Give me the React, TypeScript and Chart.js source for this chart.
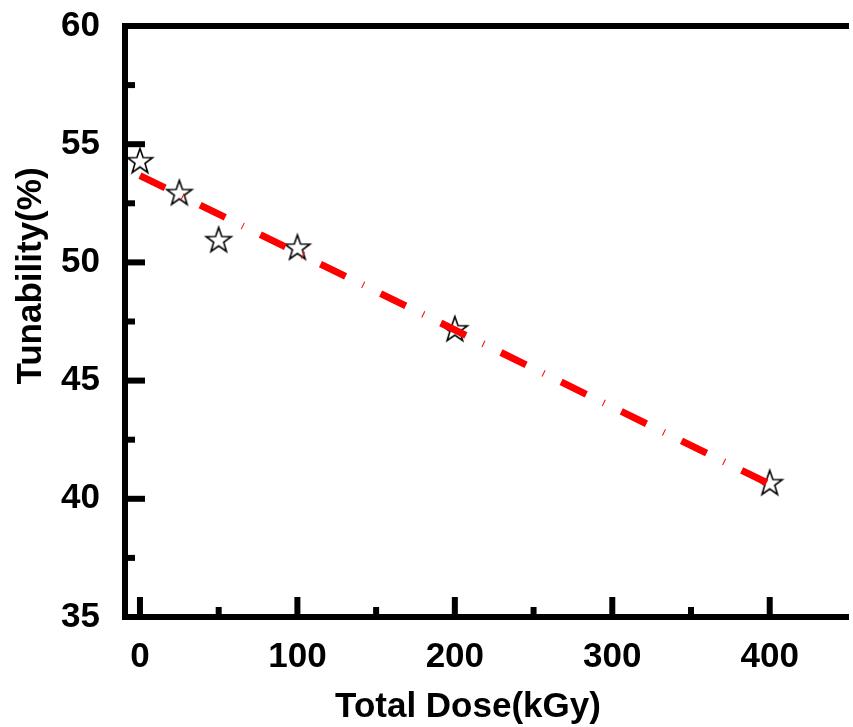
import React, { useEffect, useRef } from "react";
import { Chart, registerables } from "chart.js";

Chart.register(...registerables);

// ---- data ----
const doseValues = [0, 25, 50, 100, 200, 400];
const tunabilityValues = [54.26, 52.91, 50.92, 50.6, 47.15, 40.64];
const fitDose = [0, 400];
const fitTunability = [53.67, 40.62];
const xMajorTicks = [0, 100, 200, 300, 400];
const xMinorTicks = [50, 150, 250, 350];
const yMajorTicks = [35, 40, 45, 50, 55, 60];
const yMinorTicks = [37.5, 42.5, 47.5, 52.5, 57.5];
const xTitle = "Total Dose(kGy)";
const yTitle = "Tunability(%)";

const FONT = "'Liberation Sans', Arial, Helvetica, sans-serif";

function makeStar(): HTMLCanvasElement {
  const c = document.createElement("canvas");
  c.width = 32;
  c.height = 32;
  const ctx = c.getContext("2d")!;
  const R = 13.2;
  const r = R * 0.4;
  ctx.beginPath();
  for (let i = 0; i < 10; i++) {
    const a = -Math.PI / 2 + (i * Math.PI) / 5;
    const rad = i % 2 ? r : R;
    const px = 16 + rad * Math.cos(a);
    const py = 16 + rad * Math.sin(a);
    if (i === 0) ctx.moveTo(px, py);
    else ctx.lineTo(px, py);
  }
  ctx.closePath();
  ctx.fillStyle = "#ffffff";
  ctx.fill();
  ctx.lineWidth = 1.6;
  ctx.strokeStyle = "#000000";
  ctx.stroke();
  return c;
}

const framePlugin = {
  id: "frame",
  afterDatasetsDraw(chart: any) {
    const { ctx, chartArea } = chart;
    const { left, top, right, bottom } = chartArea;
    const xs = chart.scales.x;
    const ys = chart.scales.y;
    ctx.save();
    ctx.strokeStyle = "#000";
    ctx.lineCap = "butt";
    ctx.lineWidth = 6;
    const tick = (x1: number, y1: number, x2: number, y2: number) => {
      ctx.beginPath();
      ctx.moveTo(x1, y1);
      ctx.lineTo(x2, y2);
      ctx.stroke();
    };
    xMajorTicks.forEach((v) => {
      const p = xs.getPixelForValue(v);
      tick(p, bottom, p, bottom - 20);
    });
    xMinorTicks.forEach((v) => {
      const p = xs.getPixelForValue(v);
      tick(p, bottom, p, bottom - 10);
    });
    yMajorTicks.forEach((v) => {
      const p = ys.getPixelForValue(v);
      tick(left, p, left + 20, p);
    });
    yMinorTicks.forEach((v) => {
      const p = ys.getPixelForValue(v);
      tick(left, p, left + 10, p);
    });
    // frame: top, left, bottom
    ctx.lineJoin = "miter";
    ctx.beginPath();
    ctx.moveTo(right + 10, top);
    ctx.lineTo(left, top);
    ctx.lineTo(left, bottom);
    ctx.lineTo(right + 10, bottom);
    ctx.stroke();
    // axis titles
    ctx.font = `bold 35px ${FONT}`;
    ctx.fillStyle = "#000";
    ctx.textAlign = "center";
    ctx.textBaseline = "alphabetic";
    ctx.fillText(xTitle, 468, 717);
    ctx.translate(41, 276);
    ctx.rotate(-Math.PI / 2);
    ctx.fillText(yTitle, 0, 0);
    ctx.restore();
  },
};

export default function App() {
  const ref = useRef<HTMLCanvasElement | null>(null);
  useEffect(() => {
    if (!ref.current) return;
    const star = makeStar();
    const chart = new Chart(ref.current, {
      type: "scatter",
      data: {
        datasets: [
          {
            label: "fit",
            data: fitDose.map((x, i) => ({ x, y: fitTunability[i] })),
            showLine: true,
            borderColor: "#ff0000",
            borderWidth: 7,
            borderDash: [28, 19, 1, 19],
            borderCapStyle: "butt",
            pointRadius: 0,
            fill: false,
          },
          {
            label: "data",
            data: doseValues.map((x, i) => ({ x, y: tunabilityValues[i] })),
            showLine: false,
            pointStyle: star as any,
            pointRadius: 13,
          },
        ],
      },
      options: {
        animation: false,
        responsive: false,
        events: [],
        layout: { padding: { top: 26, left: 0, right: 0, bottom: 0 } },
        plugins: {
          legend: { display: false },
          tooltip: { enabled: false },
        },
        scales: {
          x: {
            type: "linear",
            min: -9.5,
            max: 444,
            grid: { display: false, drawTicks: false },
            border: { display: false },
            ticks: {
              stepSize: 100,
              includeBounds: false,
              color: "#000",
              padding: 19,
              font: { family: FONT, size: 35, weight: "bold" },
            },
            title: { display: false },
            afterFit: (scale: any) => {
              scale.height = 110;
              scale.paddingLeft = 0;
              scale.paddingRight = 0;
            },
          },
          y: {
            type: "linear",
            min: 35,
            max: 60,
            grid: { display: false, drawTicks: false },
            border: { display: false },
            ticks: {
              stepSize: 5,
              color: "#000",
              padding: 25,
              font: { family: FONT, size: 35, weight: "bold" },
            },
            afterFit: (scale: any) => {
              scale.width = 125;
              scale.paddingTop = 0;
              scale.paddingBottom = 0;
            },
          },
        },
      },
      plugins: [framePlugin],
    });
    return () => chart.destroy();
  }, []);
  return (
    <canvas
      ref={ref}
      width={853}
      height={727}
      style={{ position: "absolute", left: 0, top: 0, width: 853, height: 727 }}
    />
  );
}
